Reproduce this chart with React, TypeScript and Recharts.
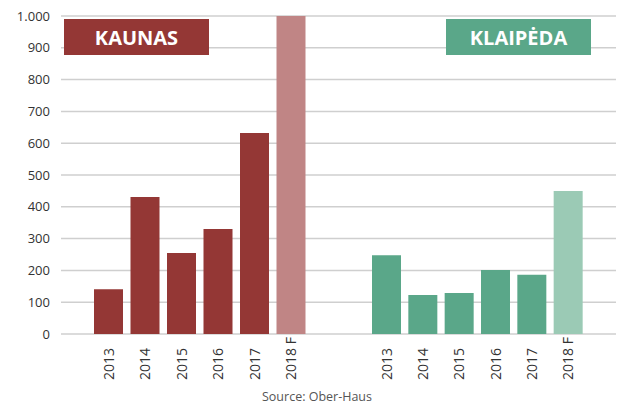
import React from 'react';
import { BarChart, Bar, XAxis, YAxis, CartesianGrid, Cell } from 'recharts';

const years = ['2013', '2014', '2015', '2016', '2017', '2018 F'];
const kaunasValues = [141, 431, 255, 330, 632, 1000];
const klaipedaValues = [248, 123, 129, 201, 186, 450];
const forecast = [false, false, false, false, false, true];
const yTicks = [0, 100, 200, 300, 400, 500, 600, 700, 800, 900, 1000];

const kaunasData = years.map((year, i) => ({ year, value: kaunasValues[i], forecast: forecast[i] }));
const klaipedaData = years.map((year, i) => ({ year, value: klaipedaValues[i], forecast: forecast[i] }));

const FONT = '"Open Sans", "Noto Sans", sans-serif';
const KAUNAS = '#943735';
const KAUNAS_F = '#c08585';
const KLAIPEDA = '#5aa789';
const KLAIPEDA_F = '#9bcab5';

const formatY = (v: number) => (v >= 1000 ? v.toLocaleString('de-DE') : String(v));

const YearTick = ({ x, payload }: any) => (
    <text
        transform={`translate(${x},380) rotate(-90)`}
        textAnchor="start"
        dominantBaseline="central"
        fontSize={14}
        fontFamily={FONT}
        fill="#333"
    >
        {payload.value}
    </text>
);

const CityBox = ({ left, color, label }: { left: number; color: string; label: string }) => (
    <div style={{
        position: 'absolute', left, top: 19, width: 145, height: 36, background: color,
        color: '#fff', fontFamily: FONT, fontWeight: 700, fontSize: 20,
        display: 'flex', alignItems: 'center', justifyContent: 'center',
    }}>
        {label}
    </div>
);

const App: React.FC = () => (
    <div style={{ position: 'relative', width: 622, height: 405, background: '#fff', overflow: 'hidden' }}>
        <style>{'body{margin:0}'}</style>
        <div style={{ position: 'absolute', left: 0, top: 0 }}>
            <BarChart width={338} height={405} data={kaunasData} margin={{ top: 16, right: 0, bottom: 0, left: 0 }}>
                <CartesianGrid vertical={false} stroke="#cfcfcf" strokeWidth={1.5} />
                <XAxis dataKey="year" height={71} axisLine={false} tickLine={false} tick={<YearTick />} interval={0} padding={{ left: 29, right: 29 }} />
                <YAxis
                    width={61} domain={[0, 1000]} ticks={yTicks} axisLine={false} tickLine={false}
                    tickSize={0} tickMargin={11} tickFormatter={formatY}
                    tick={{ fontSize: 13, fontFamily: FONT, fill: '#333' }}
                />
                <Bar dataKey="value" barSize={29} isAnimationActive={false}>
                    {kaunasData.map((d, i) => (
                        <Cell key={`k-${i}`} fill={d.forecast ? KAUNAS_F : KAUNAS} />
                    ))}
                </Bar>
            </BarChart>
        </div>
        <div style={{ position: 'absolute', left: 338, top: 0 }}>
            <BarChart width={284} height={405} data={klaipedaData} margin={{ top: 16, right: 6, bottom: 0, left: 0 }}>
                <CartesianGrid vertical={false} stroke="#cfcfcf" strokeWidth={1.5} />
                <XAxis dataKey="year" height={71} axisLine={false} tickLine={false} tick={<YearTick />} interval={0} padding={{ left: 30, right: 30 }} />
                <YAxis hide width={0} domain={[0, 1000]} ticks={yTicks} />
                <Bar dataKey="value" barSize={29} isAnimationActive={false}>
                    {klaipedaData.map((d, i) => (
                        <Cell key={`p-${i}`} fill={d.forecast ? KLAIPEDA_F : KLAIPEDA} />
                    ))}
                </Bar>
            </BarChart>
        </div>
        <CityBox left={64} color={KAUNAS} label="KAUNAS" />
        <CityBox left={446} color={KLAIPEDA} label="KLAIPĖDA" />
        <div style={{
            position: 'absolute', left: 0, width: 634, top: 388, textAlign: 'center',
            fontFamily: FONT, fontSize: 12.5, color: '#555',
        }}>
            Source: Ober-Haus
        </div>
    </div>
);

export default App;
